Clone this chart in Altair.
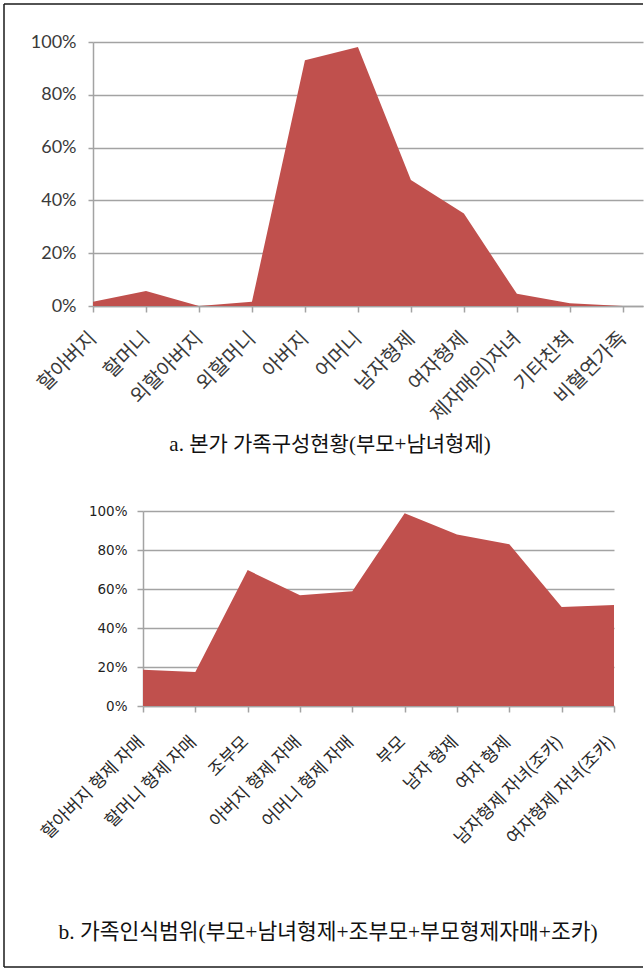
import json

import altair as alt
import pandas as pd

# Panel a: household composition of the family of origin
members_a = ["할아버지", "할머니", "외할아버지", "외할머니", "아버지", "어머니",
             "남자형제", "여자형제", "제자매의)자녀", "기타친척", "비혈연가족"]
share_a = [0.016, 0.057, 0.0, 0.016, 0.931, 0.981, 0.477, 0.350, 0.046, 0.010, 0.0]

# Panel b: range of relatives recognised as family
members_b = ["할아버지 형제 자매", "할머니 형제 자매", "조부모", "아버지 형제 자매",
             "어머니 형제 자매", "부모", "남자 형제", "여자 형제",
             "남자형제 자녀(조카)", "여자형제 자녀(조카)"]
share_b = [0.186, 0.174, 0.697, 0.568, 0.588, 0.988, 0.880, 0.829, 0.508, 0.518]

caption_a = "a.  본가  가족구성현황(부모+남녀형제)"
caption_b = "b.  가족인식범위(부모+남녀형제+조부모+부모형제자매+조카)"

y_ticks = [0, 0.2, 0.4, 0.6, 0.8, 1.0]

AREA = "#c0504d"
GRID = "#a3a3a3"
KR_FONT = "Noto Sans CJK KR"
CAPTION_FONT = "Liberation Serif, Noto Sans CJK KR"


def label_expr(names):
    return json.dumps(names, ensure_ascii=False) + "[datum.value]"


one_row = pd.DataFrame({"k": [0]})

# ---------------- panel a ----------------
df_a = pd.DataFrame({"idx": list(range(len(members_a))), "share": share_a})

area_a = alt.Chart(df_a).mark_area(color=AREA, clip=True).encode(
    x=alt.X(
        "idx:Q",
        title=None,
        scale=alt.Scale(domain=[0, 10.38], nice=False, zero=False),
        axis=alt.Axis(
            values=list(range(len(members_a))),
            labelExpr=label_expr(members_a),
            labelAngle=-45, labelAlign="right", labelBaseline="middle",
            labelFont=KR_FONT, labelFontSize=20, labelColor="#3a3a3a",
            labelPadding=23, labelOffset=0,
            labelOverlap=False, labelFlush=False, labelBound=False,
            tickSize=6, tickColor=GRID, tickWidth=1.5,
            domainColor=GRID, domainWidth=1.5, grid=False,
        ),
    ),
    y=alt.Y(
        "share:Q",
        title=None,
        scale=alt.Scale(domain=[0, 1], nice=False),
        axis=alt.Axis(
            values=y_ticks, format=".0%",
            labelFont="Lato", labelFontSize=18, labelColor="#3a3a3a",
            labelPadding=12, tickSize=5, tickColor=GRID, tickWidth=1.5,
            domainColor=GRID, domainWidth=1.5,
            grid=True, gridColor=GRID, gridWidth=1.5,
        ),
    ),
)

# outer frame of the figure
frame_left = alt.Chart(one_row).mark_rule(color="#1a1a1a", strokeWidth=1.5).encode(
    x=alt.value(-89), y=alt.value(-38), y2=alt.value(925))
frame_top = alt.Chart(one_row).mark_rule(color="#1a1a1a", strokeWidth=1.5).encode(
    x=alt.value(-89), x2=alt.value(550), y=alt.value(-38))
frame_bottom = alt.Chart(one_row).mark_rule(color="#1a1a1a", strokeWidth=1.5).encode(
    x=alt.value(-89), x2=alt.value(550), y=alt.value(925))

text_a = alt.Chart(one_row).mark_text(
    text=caption_a, font=CAPTION_FONT, fontSize=21, color="#111111",
    align="center", baseline="middle",
).encode(x=alt.value(237), y=alt.value(403))

panel_a = alt.layer(area_a, frame_left, frame_top, frame_bottom, text_a).properties(
    width=550, height=264)

# ---------------- panel b ----------------
df_b = pd.DataFrame({"idx": list(range(len(members_b))), "share": share_b})

area_b = alt.Chart(df_b).mark_area(color=AREA).encode(
    x=alt.X(
        "idx:Q",
        title=None,
        scale=alt.Scale(domain=[0, 9], range=[50, 521], nice=False, zero=False),
        axis=alt.Axis(
            values=list(range(len(members_b))),
            labelExpr=label_expr(members_b),
            labelAngle=-45, labelAlign="right", labelBaseline="middle",
            labelFont=KR_FONT, labelFontSize=17.5, labelColor="#2a2a2a",
            labelPadding=27, labelOffset=-2,
            labelOverlap=False, labelFlush=False, labelBound=False,
            tickSize=6, tickColor=GRID, tickWidth=1.5,
            domainColor=GRID, domainWidth=1.5, grid=False,
        ),
    ),
    y=alt.Y(
        "share:Q",
        title=None,
        scale=alt.Scale(domain=[0, 1], nice=False),
        axis=alt.Axis(
            values=y_ticks, format=".0%", offset=-50,
            labelFont="DejaVu Sans", labelFontSize=13.5, labelColor="#1f1f1f",
            labelPadding=10, tickSize=6, tickColor=GRID, tickWidth=1.5,
            domainColor=GRID, domainWidth=1.5,
            grid=True, gridColor=GRID, gridWidth=1.5,
        ),
    ),
)

text_b = alt.Chart(one_row).mark_text(
    text=caption_b, font=CAPTION_FONT, fontSize=21.5, color="#111111",
    align="center", baseline="middle",
).encode(x=alt.value(235), y=alt.value(422))

panel_b = alt.layer(area_b, text_b).properties(width=521, height=195)

chart = alt.vconcat(panel_a, panel_b, spacing=205, bounds="flush").properties(
    padding={"left": 3, "top": 3, "right": 0, "bottom": 0},
    background="white",
).configure_view(strokeWidth=0)

chart.save("out.html", embed_options={"renderer": "svg", "actions": False})
